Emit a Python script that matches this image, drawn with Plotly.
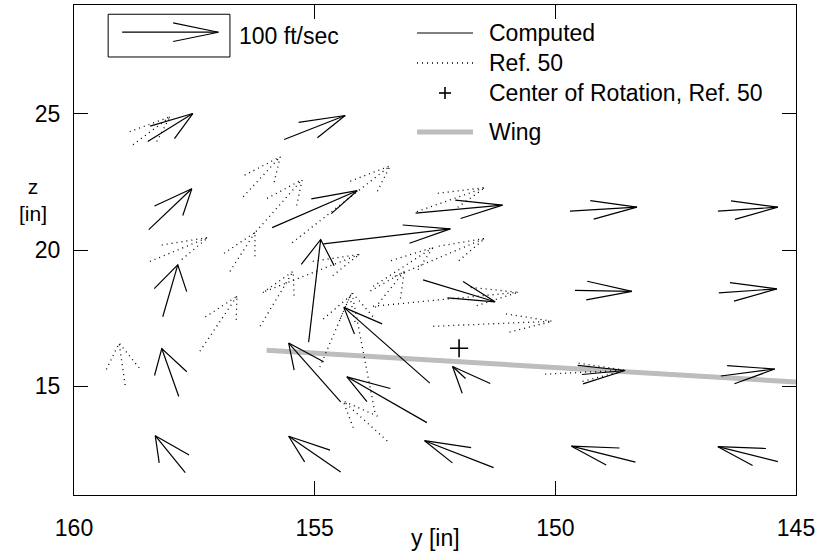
import math
import plotly.graph_objects as go

# ---- computed velocity field (arrow centres in inches, velocity in ft/sec) ----
comp_y = [158, 155, 158, 155, 152, 149, 146, 153.5, 158, 155, 152, 149, 146,
          153.5, 158, 155, 152, 149, 146, 153.5, 158, 155, 152, 149, 146]
comp_z = [24.5, 24.5, 21.5, 21.5, 21.5, 21.5, 21.5, 20.5, 18.5, 18.5, 18.5, 18.5, 18.5,
          16.5, 15.5, 15.5, 15.5, 15.5, 15.5, 14.5, 12.5, 12.5, 12.5, 12.5, 12.5]
comp_v = [-46.8, -63.4, -44.7, -88.3, -90.4, -69.6, -62.3, -131.9, -15.6, -12.5, -74.8, -59.2, -60.3,
          89.3, 17.7, 54.0, 13.5, -44.7, -56.1, 83.1, 31.2, 54.0, 71.7, 66.5, 62.3]
comp_w = [51.3, 44.0, 75.1, 67.8, 14.7, 7.3, 7.3, 27.5, 95.2, 188.6, -40.3, -1.8, 7.3,
          139.2, 87.9, 108.1, 22.0, 7.3, 12.8, 84.2, 67.8, 65.9, 49.5, 29.3, 27.5]

# ---- Ref. 50 measured velocity field ----
ref_y = [158.39, 156.10, 155.74, 156.50, 157.82, 157.00, 155.79, 154.45, 152.17, 152.40,
         153.16, 153.44, 152.28, 151.30, 159.00, 155.05, 153.99, 154.58, 153.95, 149.38]
ref_z = [24.38, 22.69, 21.63, 19.93, 20.02, 17.29, 18.21, 21.68, 21.85, 19.73,
         19.38, 18.55, 18.19, 17.29, 15.81, 19.16, 16.25, 17.00, 13.72, 15.51]
ref_v = [-38.4, -38.4, -47.8, -26.0, -60.3, -38.4, -34.3, -101.8, -70.6, -93.5,
         -62.3, -30.1, -150.6, -123.6, 6.2, -97.7, 23.9, -31.2, 45.7, -83.1]
ref_w = [51.3, 73.3, 95.2, 71.4, 44.0, 100.7, 100.7, 141.0, 44.0, 69.6,
         71.4, 65.9, 25.6, 9.2, 76.9, 67.8, 219.8, 130.0, 73.3, 7.3]

# ---- wing trace and centre of rotation ----
wing_y = [156.0, 145.0]
wing_z = [16.32, 15.15]
rot_y = [152.0]
rot_z = [16.39]

# ---- reference arrow ----
key_y, key_z, key_speed = 159.0, 28.0, 100.0

x_ticks = [160, 155, 150, 145]
y_ticks = [15, 20, 25]

SCALE = 1.0 / 50.0      # inches of arrow per ft/sec
HEAD = 1.0              # barb length, inches
HEAD_ANG = math.radians(20)

FONT = "Liberation Sans, Arial, sans-serif"


def arrow_paths(yc, zc, v, w):
    xs, zs = [], []
    for y0, z0, vv, ww in zip(yc, zc, v, w):
        dy, dz = vv * SCALE, ww * SCALE
        ty, tz = y0 - dy / 2, z0 - dz / 2
        hy, hz = y0 + dy / 2, z0 + dz / 2
        L = math.hypot(dy, dz)
        ux, uz = -dy / L, -dz / L
        barbs = []
        for s in (1, -1):
            a = s * HEAD_ANG
            bx = ux * math.cos(a) - uz * math.sin(a)
            bz = ux * math.sin(a) + uz * math.cos(a)
            barbs.append((hy + HEAD * bx, hz + HEAD * bz))
        xs += [ty, hy, None, barbs[0][0], hy, barbs[1][0], None]
        zs += [tz, hz, None, barbs[0][1], hz, barbs[1][1], None]
    return xs, zs


fig = go.Figure()

# wing section
fig.add_trace(go.Scatter(x=wing_y, y=wing_z, mode="lines",
                         line=dict(color="#bdbdbd", width=5), hoverinfo="skip"))

# Ref. 50 arrows (dotted)
rx, rz = arrow_paths(ref_y, ref_z, ref_v, ref_w)
fig.add_trace(go.Scatter(x=rx, y=rz, mode="lines",
                         line=dict(color="black", width=1.3, dash="1px,4px"),
                         hoverinfo="skip"))

# computed arrows (solid)
cx, cz = arrow_paths(comp_y, comp_z, comp_v, comp_w)
fig.add_trace(go.Scatter(x=cx, y=cz, mode="lines",
                         line=dict(color="black", width=1.2), hoverinfo="skip"))

# centre of rotation
fig.add_trace(go.Scatter(x=rot_y, y=rot_z, mode="markers",
                         marker=dict(symbol="cross-thin", size=13,
                                     line=dict(color="black", width=1.6)),
                         hoverinfo="skip"))

# reference arrow in its box
kd = -key_speed * SCALE
kx, kz = arrow_paths([key_y + kd / 2], [key_z], [-key_speed], [0.0])
fig.add_trace(go.Scatter(x=kx, y=kz, mode="lines",
                         line=dict(color="black", width=1.2), hoverinfo="skip"))
fig.add_shape(type="rect", xref="x", yref="y", x0=159.29, x1=156.76, y0=27.09, y1=28.66,
              line=dict(color="black", width=1))
fig.add_annotation(x=156.61, y=27.86, xref="x", yref="y", text="100 ft/sec",
                   showarrow=False, xanchor="left", yanchor="middle",
                   font=dict(family=FONT, size=23, color="black"))

# ---- plot-area geometry (pixels) ----
W, H = 820, 554
L_M, R_M, T_M, B_M = 74, 24, 5, 59
PW, PH = W - L_M - R_M, H - T_M - B_M


def px(xp):
    return (xp - L_M) / PW


def py(yp):
    return (H - B_M - yp) / PH


# legend
leg_x0, leg_x1, leg_text = 417, 473, 487
fig.add_shape(type="line", xref="paper", yref="paper", x0=px(leg_x0), x1=px(leg_x1),
              y0=py(33), y1=py(33), line=dict(color="black", width=1))
fig.add_shape(type="line", xref="paper", yref="paper", x0=px(leg_x0), x1=px(leg_x1),
              y0=py(63), y1=py(63), line=dict(color="black", width=1.3, dash="1px,4px"))
fig.add_shape(type="line", xref="paper", yref="paper", x0=px(leg_x0), x1=px(leg_x1),
              y0=py(132), y1=py(132), line=dict(color="#bdbdbd", width=5))
fig.add_shape(type="line", xref="paper", yref="paper", x0=px(439), x1=px(451),
              y0=py(93), y1=py(93), line=dict(color="black", width=1.6))
fig.add_shape(type="line", xref="paper", yref="paper", x0=px(445), x1=px(445),
              y0=py(87), y1=py(99), line=dict(color="black", width=1.6))
for label, yy in [("Computed", 33), ("Ref. 50", 63),
                  ("Center of Rotation, Ref. 50", 93), ("Wing", 132)]:
    fig.add_annotation(x=px(leg_text), y=py(yy), xref="paper", yref="paper", text=label,
                       showarrow=False, xanchor="left", yanchor="middle",
                       font=dict(family=FONT, size=23, color="black"))

# axis titles
fig.add_annotation(x=0.5, y=py(538), xref="paper", yref="paper", text="y [in]",
                   showarrow=False, xanchor="center", yanchor="middle",
                   font=dict(family=FONT, size=23, color="black"))
fig.add_annotation(x=px(33), y=py(200), xref="paper", yref="paper", text="z<br>[in]",
                   showarrow=False, xanchor="center", yanchor="middle",
                   font=dict(family=FONT, size=21, color="black"))

axis_common = dict(showline=True, linecolor="black", linewidth=1, mirror="ticks",
                   ticks="inside", ticklen=14, tickwidth=1, tickcolor="black",
                   showgrid=False, zeroline=False,
                   tickfont=dict(family=FONT, size=23, color="black"))

fig.update_layout(
    width=W, height=H,
    margin=dict(l=L_M, r=R_M, t=T_M, b=B_M),
    paper_bgcolor="white", plot_bgcolor="white",
    showlegend=False,
    xaxis=dict(range=[160, 145], tickvals=x_ticks, ticklabelstandoff=12, **axis_common),
    yaxis=dict(range=[11, 29], tickvals=y_ticks, ticklabelstandoff=8, **axis_common),
)

fig.write_html("out.html")
